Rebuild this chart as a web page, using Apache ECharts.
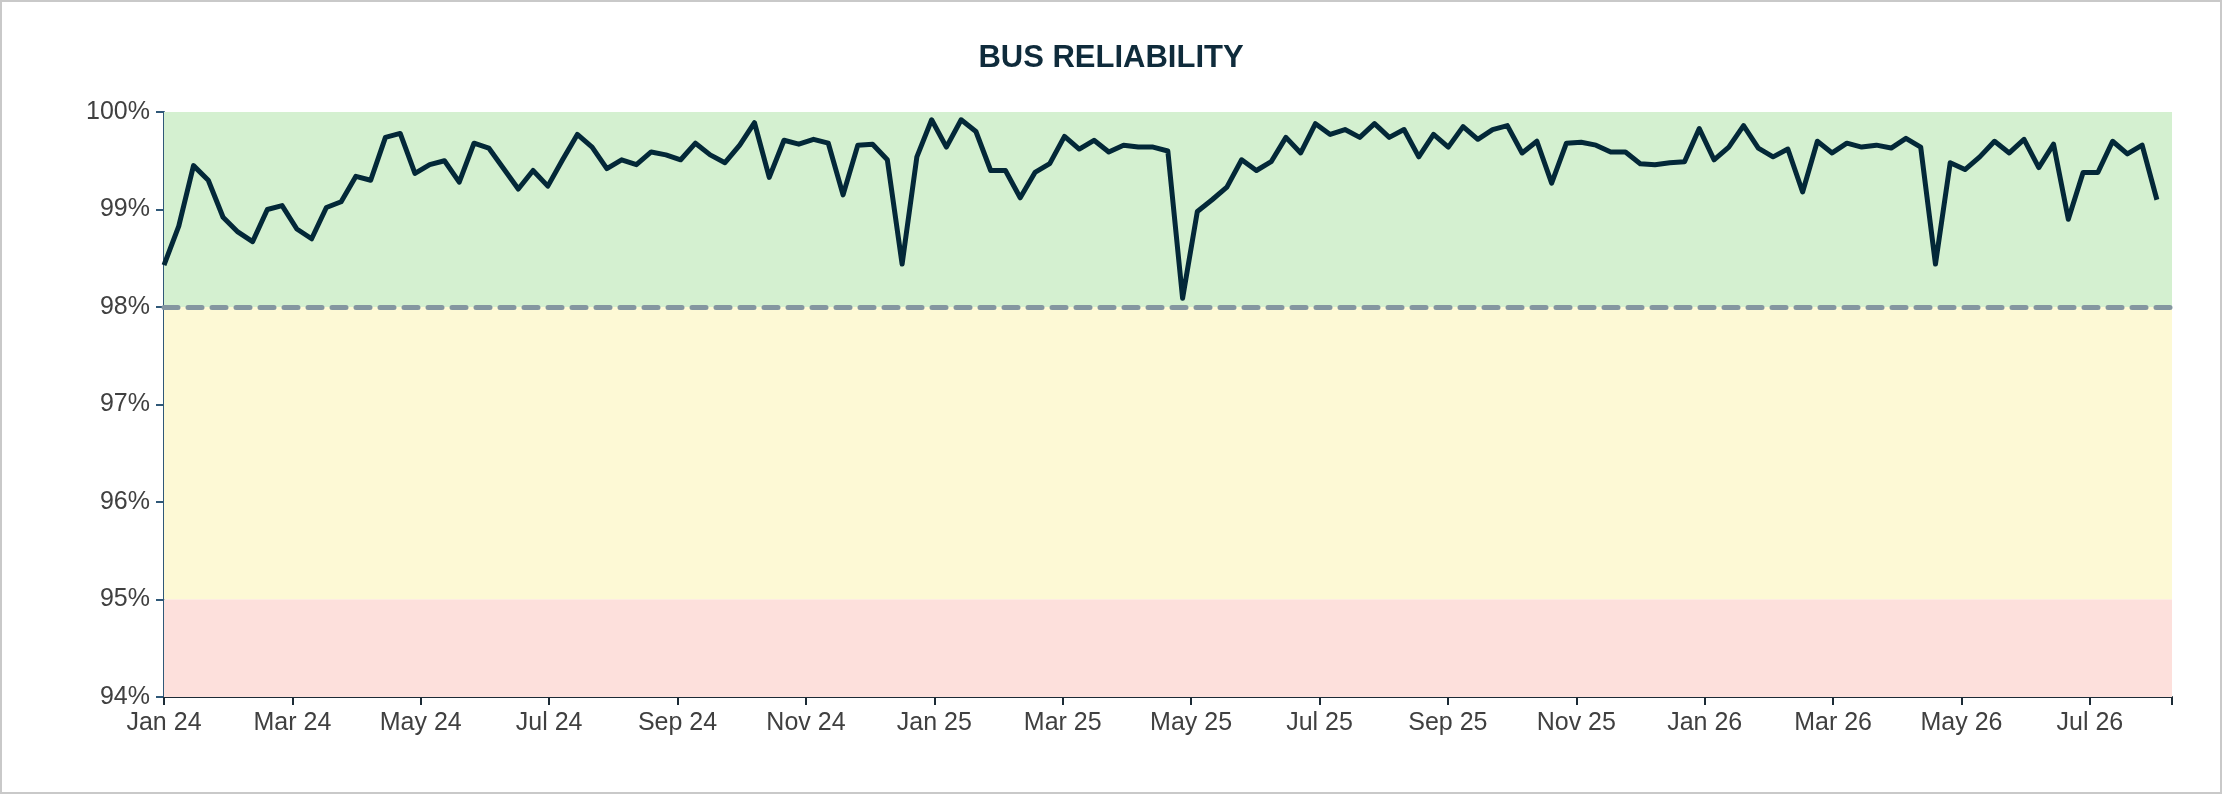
<!DOCTYPE html>
<html><head><meta charset="utf-8">
<script src="https://cdn.jsdelivr.net/npm/echarts@6/dist/echarts.min.js"></script>
<style>html,body{margin:0;padding:0;background:#fff}#c{width:2222px;height:794px;box-sizing:border-box;border:2px solid #c9c9c9}</style>
</head><body><div id="c"></div>
<script>
const xLabels = ["Jan 24","Mar 24","May 24","Jul 24","Sep 24","Nov 24","Jan 25","Mar 25","May 25","Jul 25","Sep 25","Nov 25","Jan 26","Mar 26","May 26","Jul 26"];
const reliability = [98.43,98.83,99.45,99.30,98.92,98.77,98.67,99.00,99.04,98.80,98.70,99.02,99.08,99.34,99.30,99.74,99.78,99.37,99.46,99.50,99.28,99.68,99.63,99.42,99.21,99.40,99.24,99.51,99.77,99.64,99.42,99.51,99.46,99.59,99.56,
99.51,99.68,99.56,99.48,99.66,99.89,99.33,99.71,99.67,99.72,99.68,99.15,99.66,99.67,99.51,98.44,99.54,99.92,99.64,99.92,99.80,99.40,99.40,99.12,99.38,99.47,99.75,99.62,99.71,99.59,99.66,99.64,99.64,
99.60,98.09,98.98,99.10,99.23,99.51,99.40,99.49,99.74,99.58,99.88,99.77,99.82,99.74,99.88,99.74,99.82,99.54,99.77,99.64,99.85,99.72,99.82,99.86,99.58,99.70,99.27,99.68,99.69,99.66,99.59,99.59,99.47,99.46,
99.48,99.49,99.83,99.51,99.64,99.86,99.63,99.54,99.62,99.18,99.70,99.58,99.68,99.64,99.66,99.63,99.73,99.64,98.44,99.48,99.41,99.54,99.70,99.58,99.72,99.43,99.67,98.90,99.38,99.38,99.70,99.57,99.66,99.10];
const target = 98;
const bands = [[98,100,'#d4f0d0'],[95,98,'#fdf9d5'],[94,95,'#fde0dc']];
const MONTH_PER_WEEK = 7/30.44;
const data = reliability.map((v,i)=>[i*MONTH_PER_WEEK, v]);
const chart = echarts.init(document.getElementById('c'));
const font = 'Liberation Sans, Arial, sans-serif';
chart.setOption({
  animation:false,
  title:{text:'BUS RELIABILITY',left:'center',top:36,textStyle:{fontFamily:font,fontSize:31,fontWeight:'bold',color:'#0f2b3b'}},
  grid:{left:162,right:48,top:110,bottom:95},
  xAxis:{type:'value',min:0,max:31.28,interval:2,
    axisLine:{onZero:false,lineStyle:{color:'#1c2b36',width:2}},
    axisTick:{show:true,length:8,lineStyle:{color:'#1c2b36',width:2}},
    splitLine:{show:false},
    axisLabel:{fontFamily:font,fontSize:25,color:'#404040',margin:14,
      formatter:v=>{const k=Math.round(v/2);return Math.abs(v-2*k)<1e-6&&xLabels[k]?xLabels[k]:'';}}},
  yAxis:{type:'value',min:94,max:100,interval:1,
    axisLine:{show:true,lineStyle:{color:'#2f5878',width:2}},
    axisTick:{show:true,length:8,lineStyle:{color:'#2f5878',width:2}},
    splitLine:{show:false},
    axisLabel:{fontFamily:font,fontSize:25,color:'#404040',margin:14,formatter:v=>v+'%'}},
  series:[{type:'line',data:data,symbol:'none',z:5,
    lineStyle:{color:'#032838',width:5,join:'round'},
    markArea:{silent:true,data:bands.map(b=>[{yAxis:b[0],itemStyle:{color:b[2]}},{yAxis:b[1]}])},
    markLine:{silent:true,symbol:'none',label:{show:false},
      lineStyle:{color:'#8496a0',width:5,type:[14,10],cap:'round'},data:[{yAxis:target}]}}]
});
</script></body></html>
